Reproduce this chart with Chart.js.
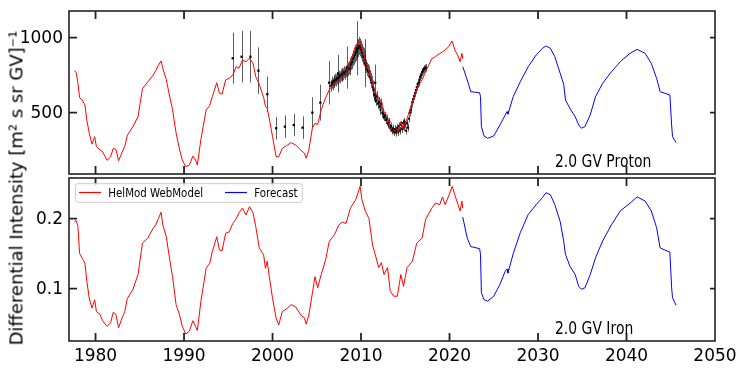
<!DOCTYPE html>
<html>
<head>
<meta charset="utf-8">
<script src="https://cdn.jsdelivr.net/npm/chart.js@4.4.0/dist/chart.umd.min.js"></script>
<style>
  body { margin: 0; background: #fff; }
  #wrap { position: relative; width: 750px; height: 375px; overflow: hidden; }
  #wrap canvas { position: absolute; left: 0; }
  #cProton { top: 0; }
  #cIron { top: 175px; }
  #ytitle {
    position: absolute; left: 16px; top: 188px;
    transform: translate(-50%, -50%) rotate(-90deg);
    font: 18px "DejaVu Sans", sans-serif; color: #000; white-space: nowrap;
  }
</style>
</head>
<body>
<div id="wrap">
  <canvas id="cProton" width="750" height="180"></canvas>
  <canvas id="cIron" width="750" height="200"></canvas>
  <div id="ytitle">Differential Intensity [m² s sr GV]⁻¹</div>
</div>
<script>
// x axis ticks
const decades = [1980, 1990, 2000, 2010, 2020, 2030, 2040, 2050];
const protonTicks = [500, 1000];
const ironTicks = [0.1, 0.2];

// HelMod WebModel (red)
const modelYears = [1977.6,1977.8,1978.0,1978.2,1978.5,1978.8,1979.0,1979.3,1979.6,1979.9,
  1980.1,1980.5,1980.8,1981.3,1981.7,1982.0,1982.3,1982.6,1983.0,1983.3,
  1983.6,1984.2,1984.8,1985.3,1985.9,1986.5,1986.8,1987.1,1987.4,1987.6,
  1988.0,1988.3,1988.7,1989.1,1989.5,1989.8,1990.2,1990.6,1991.0,1991.3,
  1991.5,1991.9,1992.5,1992.9,1993.2,1993.7,1994.0,1994.3,1994.7,1995.1,
  1995.5,1995.9,1996.2,1996.6,1997.0,1997.4,1997.8,1998.1,1998.5,1999.0,
  1999.2,1999.4,1999.6,2000.0,2000.4,2000.7,2001.1,2001.7,2002.1,2002.6,
  2003.2,2003.6,2003.8,2004.1,2004.5,2004.8,2005.1,2005.5,2006.0,2006.4,
  2007.0,2007.5,2007.9,2008.3,2008.8,2009.4,2009.9,2010.1,2010.5,2010.9,
  2011.3,2011.6,2012.0,2012.3,2012.6,2013.0,2013.3,2013.7,2014.1,2014.5,
  2014.8,2015.2,2015.8,2016.3,2016.9,2017.3,2018.0,2018.4,2018.9,2019.2,
  2019.5,2019.9,2020.3,2020.6,2020.9,2021.2,2021.4,2021.5];
const protonModel = [780,770,700,600,585,550,455,360,290,340,
  273,252,240,182,205,262,255,180,235,275,
  350,405,473,660,705,750,780,815,845,795,
  720,630,520,365,252,185,140,150,210,185,
  150,320,518,548,607,700,630,623,718,730,
  750,807,796,850,840,863,828,740,690,600,
  540,530,470,340,207,207,262,285,300,285,
  250,230,196,250,396,430,420,520,600,651,
  700,720,750,763,840,950,975,940,840,773,
  700,640,600,573,507,473,385,363,363,440,
  385,463,560,660,720,773,860,873,896,905,
  918,940,978,918,885,840,896,860];
const ironModel = [0.196,0.197,0.190,0.150,0.143,0.136,0.112,0.085,0.072,0.084,
  0.067,0.063,0.054,0.046,0.051,0.066,0.063,0.044,0.058,0.067,
  0.086,0.098,0.120,0.165,0.172,0.186,0.191,0.200,0.209,0.191,
  0.174,0.148,0.117,0.077,0.062,0.046,0.035,0.039,0.054,0.046,
  0.040,0.081,0.129,0.136,0.153,0.174,0.155,0.154,0.179,0.181,
  0.193,0.200,0.208,0.215,0.205,0.217,0.208,0.189,0.158,0.148,
  0.129,0.139,0.120,0.086,0.058,0.048,0.067,0.072,0.077,0.074,
  0.062,0.058,0.049,0.062,0.093,0.117,0.101,0.120,0.141,0.167,
  0.177,0.191,0.195,0.193,0.215,0.227,0.246,0.227,0.210,0.200,
  0.162,0.149,0.130,0.137,0.120,0.130,0.096,0.089,0.089,0.120,
  0.103,0.130,0.139,0.165,0.172,0.199,0.215,0.222,0.220,0.231,
  0.220,0.232,0.246,0.234,0.222,0.211,0.225,0.215];

// Forecast (blue)
const forecastYears = [2021.5,2022.0,2022.4,2023.4,2023.5,2023.6,2023.9,2024.3,2025.0,2025.7,
  2026.3,2026.5,2026.6,2027.2,2028.0,2028.9,2029.8,2030.5,2030.9,2031.4,
  2031.9,2032.5,2032.9,2033.1,2033.6,2034.2,2034.6,2034.9,2035.3,2035.9,
  2036.5,2037.3,2038.3,2039.3,2040.4,2041.2,2042.1,2042.8,2043.4,2043.8,
  2044.9,2045.1,2045.2,2045.6];
const protonForecast = [807,718,640,633,607,407,345,329,345,418,
  485,507,490,607,707,807,885,929,945,929,
  873,763,690,585,529,473,418,396,407,485,
  607,696,773,840,896,922,896,829,729,640,
  618,418,340,300];
const ironForecast = [0.202,0.172,0.160,0.157,0.149,0.094,0.084,0.082,0.089,0.106,
  0.125,0.128,0.122,0.150,0.180,0.206,0.220,0.230,0.237,0.234,
  0.220,0.196,0.168,0.149,0.132,0.120,0.103,0.099,0.101,0.120,
  0.144,0.168,0.191,0.211,0.222,0.231,0.225,0.211,0.187,0.158,
  0.152,0.101,0.087,0.076];

// measured proton points, yearly-ish with large errors
const yearlyYears = [1995.5,1996.5,1997.5,1998.4,1999.4,2000.4,2001.4,2002.4,2003.4,2004.5,
  2005.4,2006.4,2007.4,2008.4,2009.5,2010.5,2011.6];
const yearlyFlux = [863,873,873,780,623,396,407,418,400,500,
  567,700,760,800,930,830,700];
const yearlyErr = [170,172,172,155,117,75,75,75,75,103,
  120,145,125,140,180,160,120];

// measured proton points, monthly
const monthlyYears = [2006.6,2006.7,2006.8,2006.9,2007.0,2007.1,2007.2,2007.3,2007.4,2007.5,
  2007.6,2007.7,2007.8,2007.9,2008.0,2008.1,2008.2,2008.3,2008.4,2008.5,
  2008.6,2008.7,2008.8,2008.9,2009.0,2009.1,2009.2,2009.3,2009.4,2009.5,
  2009.6,2009.7,2009.8,2009.9,2010.0,2010.1,2010.2,2010.3,2010.4,2010.5,
  2010.6,2010.7,2010.8,2010.9,2011.0,2011.1,2011.2,2011.3,2011.4,2011.5,
  2011.6,2011.7,2011.8,2011.9,2012.0,2012.1,2012.2,2012.3,2012.4,2012.5,
  2012.6,2012.7,2012.8,2012.9,2013.0,2013.1,2013.2,2013.3,2013.4,2013.5,
  2013.6,2013.7,2013.8,2013.9,2014.0,2014.1,2014.2,2014.3,2014.4,2014.5,
  2014.6,2014.7,2014.8,2014.9,2015.0,2015.1,2015.2,2015.3,2015.4,2015.5,
  2015.6,2015.7,2015.8,2015.9,2016.0,2016.1,2016.2,2016.3,2016.4,2016.5,
  2016.6,2016.7,2016.8,2016.9,2017.0,2017.1,2017.2,2017.3];
const monthlyFlux = [680,700,690,710,705,720,715,730,725,740,
  735,750,745,760,755,770,760,775,780,790,
  800,795,820,830,840,860,870,885,900,910,
  925,930,945,935,920,900,880,870,850,830,
  810,790,780,770,740,720,700,670,650,620,
  600,580,610,560,570,540,520,560,500,490,
  470,480,450,460,430,420,440,400,410,380,
  395,370,390,365,380,400,370,410,380,420,
  390,430,400,440,420,380,430,400,460,500,
  520,540,570,590,610,630,650,670,690,700,
  720,740,750,770,780,790,795,800];
const monthlyErr = [40,40,40,40,40,40,40,40,40,40,
  40,40,40,40,40,40,40,40,40,45,
  45,45,45,45,50,50,50,50,55,55,
  60,60,60,60,60,60,60,60,60,55,
  45,45,45,45,45,45,45,45,45,45,
  35,35,35,35,35,35,35,35,35,35,
  25,25,25,25,25,25,25,25,25,25,
  25,25,25,25,25,25,25,25,25,25,
  25,25,25,25,25,25,25,25,25,25,
  25,25,25,25,25,25,25,25,25,25,
  25,25,25,25,25,25,25,25];

const xy = (xs, ys) => xs.map((x, i) => ({ x: x, y: ys[i] }));
const FONT = '"DejaVu Sans", sans-serif';

// axis frame, inward ticks, y labels, panel label, legend
const framePlugin = {
  id: 'frame',
  beforeDatasetsDraw(chart, args, opts) {
    // error bars go under the points
    const { ctx, chartArea: a, scales } = chart;
    if (!opts.errors) return;
    ctx.save();
    ctx.beginPath();
    ctx.rect(a.left, a.top, a.right - a.left, a.bottom - a.top);
    ctx.clip();
    ctx.strokeStyle = 'rgba(40,40,40,0.75)';
    ctx.lineWidth = 1;
    opts.errors.forEach(set => {
      ctx.beginPath();
      set.xs.forEach((x, i) => {
        const px = Math.round(scales.x.getPixelForValue(x)) + 0.5;
        ctx.moveTo(px, scales.y.getPixelForValue(set.ys[i] + set.es[i]));
        ctx.lineTo(px, scales.y.getPixelForValue(set.ys[i] - set.es[i]));
      });
      ctx.stroke();
    });
    ctx.restore();
  },
  afterDraw(chart, args, opts) {
    const { ctx, chartArea: a, scales } = chart;
    ctx.save();
    ctx.strokeStyle = '#222';
    ctx.lineWidth = 1.6;
    ctx.strokeRect(a.left, a.top, a.right - a.left, a.bottom - a.top);
    ctx.beginPath();
    decades.forEach(v => {
      const px = scales.x.getPixelForValue(v);
      if (px < a.left + 2 || px > a.right - 2) return;
      ctx.moveTo(px, a.bottom); ctx.lineTo(px, a.bottom - 8);
      ctx.moveTo(px, a.top); ctx.lineTo(px, a.top + 8);
    });
    opts.yTicks.forEach(v => {
      const py = scales.y.getPixelForValue(v);
      ctx.moveTo(a.left, py); ctx.lineTo(a.left + 8, py);
      ctx.moveTo(a.right, py); ctx.lineTo(a.right - 5, py);
    });
    ctx.lineWidth = 1.8;
    ctx.stroke();

    // y tick labels
    ctx.fillStyle = '#000';
    ctx.font = '17px ' + FONT;
    ctx.textAlign = 'right';
    ctx.textBaseline = 'middle';
    opts.yTicks.forEach(v => {
      ctx.fillText(opts.yFmt(v), a.left - 6, scales.y.getPixelForValue(v) + 1);
    });

    // panel label
    ctx.textAlign = 'left';
    ctx.textBaseline = 'alphabetic';
    ctx.translate(a.left + 486, a.bottom - 7);
    ctx.scale(0.82, 1);
    ctx.fillText(opts.label, 0, 0);
    ctx.restore();

    if (opts.legend) {
      ctx.save();
      const lx = a.left + 6.5, ly = a.top + 5.7, lw = 226.8, lh = 18.6;
      ctx.fillStyle = 'rgba(255,255,255,0.85)';
      ctx.strokeStyle = '#cccccc';
      ctx.lineWidth = 1;
      ctx.beginPath();
      ctx.roundRect(lx, ly, lw, lh, 2.5);
      ctx.fill();
      ctx.stroke();
      const items = [['HelMod WebModel', '#ff0000', 10, 39.3], ['Forecast', '#0000ff', 156, 185.3]];
      items.forEach(([txt, col, x0, tx]) => {
        ctx.strokeStyle = col;
        ctx.lineWidth = 1.2;
        ctx.beginPath();
        ctx.moveTo(a.left + x0, a.top + 14.5); ctx.lineTo(a.left + x0 + 22, a.top + 14.5);
        ctx.stroke();
        ctx.save();
        ctx.fillStyle = '#000';
        ctx.font = '11.5px ' + FONT;
        ctx.translate(a.left + tx, a.top + 18.5);
        ctx.scale(0.89, 1);
        ctx.fillText(txt, 0, 0);
        ctx.restore();
      });
      ctx.restore();
    }
  }
};

function decadeTicksFn(scale) {
  scale.ticks = decades.map(v => ({ value: v }));
}

function makeYScale(min, max, ticks) {
  return {
    type: 'linear', min: min, max: max,
    afterFit(s) { s.width = 69; },
    afterBuildTicks(s) { s.ticks = ticks.map(v => ({ value: v })); },
    grid: { display: false, drawTicks: false },
    border: { display: false },
    ticks: { display: false }
  };
}

// Top panel: proton
new Chart(document.getElementById('cProton'), {
  type: 'line',
  data: {
    datasets: [
      { label: 'HelMod WebModel', data: xy(modelYears, protonModel), borderColor: '#ff0000', borderWidth: 1, pointRadius: 0 },
      { label: 'Forecast', data: xy(forecastYears, protonForecast), borderColor: '#0000ff', borderWidth: 1, pointRadius: 0 },
      { label: 'data yearly', data: xy(yearlyYears, yearlyFlux), showLine: false, pointStyle: 'rect', pointRadius: 1.6, backgroundColor: '#000', borderColor: '#000', borderWidth: 0, order: 2 },
      { label: 'data monthly', data: xy(monthlyYears, monthlyFlux), showLine: false, pointStyle: 'rect', pointRadius: 1.5, backgroundColor: '#000', borderColor: '#000', borderWidth: 0, order: 2 }
    ]
  },
  options: {
    responsive: false, animation: false,
    layout: { padding: { top: 11, right: 35, bottom: 6, left: 0 } },
    plugins: {
      legend: { display: false }, tooltip: { enabled: false },
      frame: {
        yTicks: protonTicks, yFmt: v => String(v), label: '2.0 GV Proton',
        errors: [
          { xs: yearlyYears, ys: yearlyFlux, es: yearlyErr },
          { xs: monthlyYears, ys: monthlyFlux, es: monthlyErr }
        ]
      }
    },
    scales: {
      x: { type: 'linear', min: 1977, max: 2050, display: false, afterBuildTicks: decadeTicksFn },
      y: makeYScale(91, 1178, protonTicks)
    }
  },
  plugins: [framePlugin]
});

// Bottom panel: iron
new Chart(document.getElementById('cIron'), {
  type: 'line',
  data: {
    datasets: [
      { label: 'HelMod WebModel', data: xy(modelYears, ironModel), borderColor: '#ff0000', borderWidth: 1, pointRadius: 0 },
      { label: 'Forecast', data: xy(forecastYears, ironForecast), borderColor: '#0000ff', borderWidth: 1, pointRadius: 0 }
    ]
  },
  options: {
    responsive: false, animation: false,
    layout: { padding: { top: 3, right: 35, bottom: 0, left: 0 } },
    plugins: {
      legend: { display: false }, tooltip: { enabled: false },
      frame: { yTicks: ironTicks, yFmt: v => v.toFixed(1), label: '2.0 GV Iron', legend: true }
    },
    scales: {
      x: {
        type: 'linear', min: 1977, max: 2050,
        afterFit(s) { s.height = 34; },
        afterBuildTicks: decadeTicksFn,
        grid: { display: false, drawTicks: false },
        border: { display: false },
        ticks: { color: '#000', padding: 5, maxRotation: 0, font: { family: FONT, size: 17 }, callback: v => String(v) }
      },
      y: makeYScale(0.025, 0.258, ironTicks)
    }
  },
  plugins: [framePlugin]
});
</script>
</body>
</html>
